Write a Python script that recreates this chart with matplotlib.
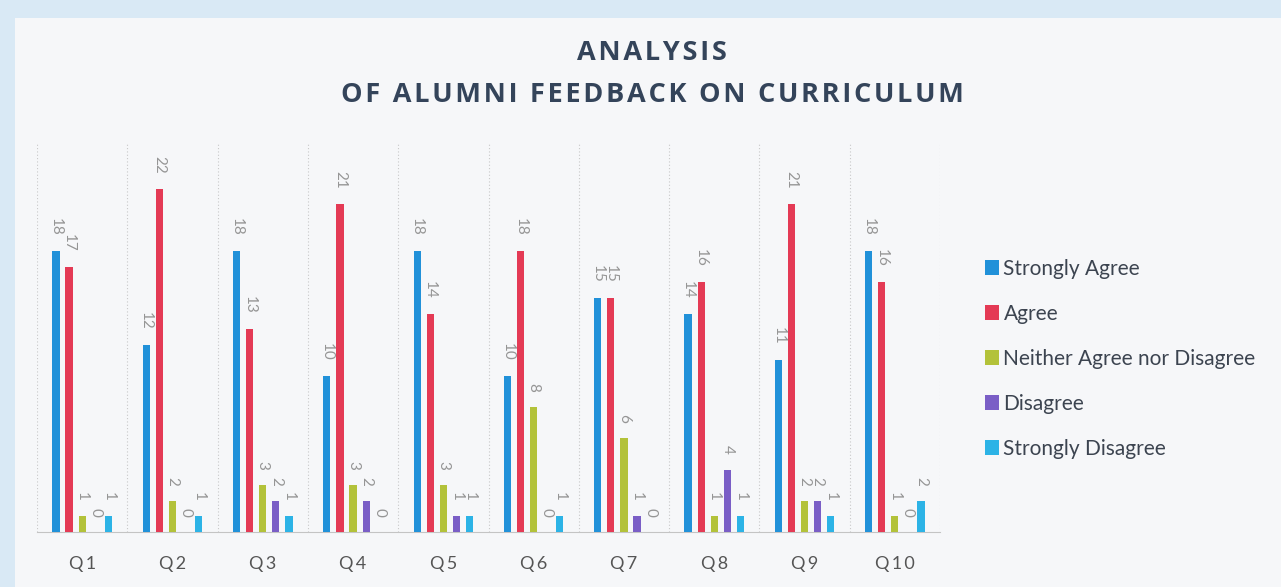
import numpy as np
import matplotlib
matplotlib.use("Agg")
from matplotlib import pyplot as plt
from matplotlib.patches import Rectangle

plt.rcParams['font.family'] = ['Lato', 'DejaVu Sans']

# data
questions = ["Q1", "Q2", "Q3", "Q4", "Q5", "Q6", "Q7", "Q8", "Q9", "Q10"]
strongly_agree = [18, 12, 18, 10, 18, 10, 15, 14, 11, 18]
agree = [17, 22, 13, 21, 14, 18, 15, 16, 21, 16]
neither = [1, 2, 3, 3, 3, 8, 6, 1, 2, 1]
disagree = [0, 0, 2, 2, 1, 0, 1, 4, 2, 0]
strongly_disagree = [1, 1, 1, 0, 1, 1, 0, 1, 1, 2]

series_names = ["Strongly Agree", "Agree", "Neither Agree nor Disagree",
                "Disagree", "Strongly Disagree"]
colors = ["#2191d9", "#e43a55", "#b3c23a", "#7a5ec6", "#2cb3e6"]

fig = plt.figure(figsize=(12.81, 5.87), dpi=100)
fig.patch.set_facecolor("#d9e9f5")
# paper area of the scan
fig.patches.append(Rectangle((15 / 1281, 0), 1 - 15 / 1281, 1 - 18 / 587,
                             transform=fig.transFigure, facecolor="#f6f7f9",
                             edgecolor="none", zorder=-10))

ax = fig.add_axes([37 / 1281, 55 / 587, 903 / 1281, 390 / 587])
ax.set_facecolor("none")

x = np.arange(len(questions))
step = 0.145
width = 0.08
all_series = [strongly_agree, agree, neither, disagree, strongly_disagree]
for k, (vals, name, c) in enumerate(zip(all_series, series_names, colors)):
    pos = x + (k - 2) * step
    ax.bar(pos, vals, width=width, color=c, label=name, zorder=3)
    for p, v in zip(pos, vals):
        ax.annotate(str(v), (p, v), xytext=(0, 11), textcoords="offset points",
                    rotation=-90, ha="center", va="bottom", fontsize=11,
                    color="#959595", zorder=4)

ax.set_xlim(-0.5, len(questions) - 0.5)
ax.set_ylim(0, 25)
ax.set_yticks([])
ax.set_xticks(x)
ax.set_xticklabels(["\u2009".join(q) for q in questions], fontsize=13,
                   color="#555555")
ax.tick_params(axis="x", length=0, pad=17)

# dotted category separators
for b in np.arange(-0.5, len(questions), 1.0):
    ax.axvline(b, color="#c8c8c8", lw=0.8, ls=(0, (1, 2)), zorder=1)

for s in ["top", "left", "right"]:
    ax.spines[s].set_visible(False)
ax.spines["bottom"].set_color("#c4c4c4")

title_font = ['Open Sans', 'DejaVu Sans']
fig.text(652 / 1281, 1 - 53 / 587, "\u200a".join("ANALYSIS"), ha="center",
         va="center", fontsize=19.5, fontweight="bold", color="#34445a",
         family=title_font)
fig.text(652 / 1281, 1 - 95 / 587, "\u200a".join("OF ALUMNI FEEDBACK ON CURRICULUM"),
         ha="center", va="center", fontsize=19.5, fontweight="bold", color="#34445a",
         family=title_font)

leg = fig.legend(loc="upper left", bbox_to_anchor=(966 / 1281, 1 - 240 / 587),
                 frameon=False, fontsize=15, handlelength=0.7, handleheight=0.7,
                 handletextpad=0.2, labelspacing=1.2, labelcolor="#3c4450")

fig.savefig("out.png", dpi=100, facecolor=fig.get_facecolor())
